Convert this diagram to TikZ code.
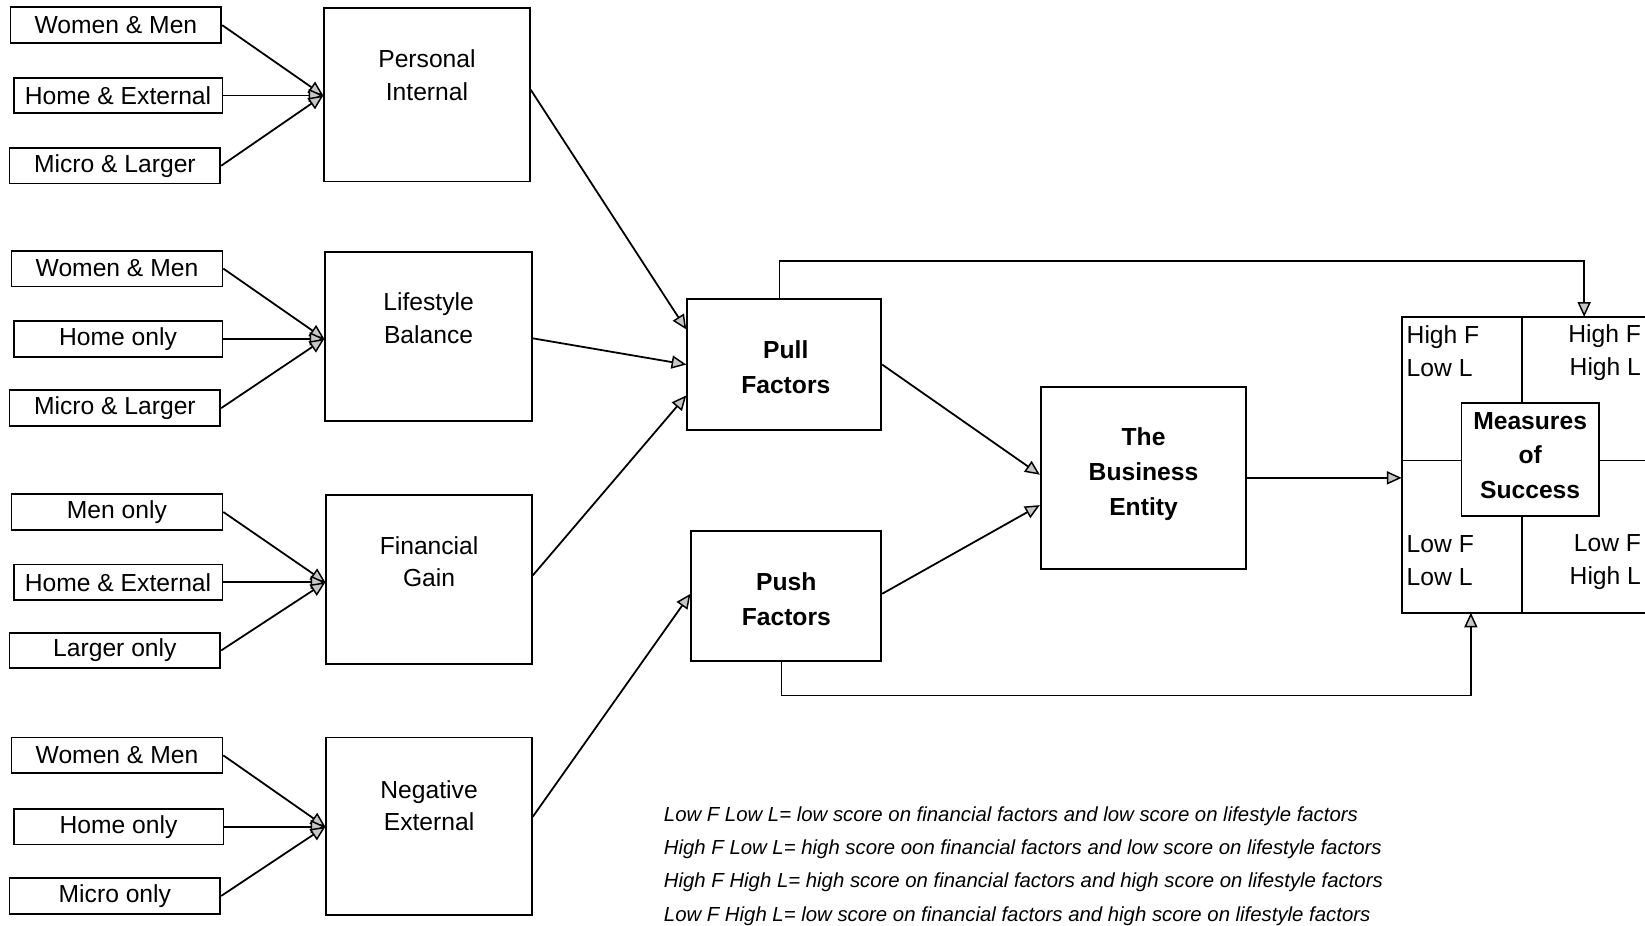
\documentclass[tikz,border=0pt]{standalone}
\usepackage{fontspec}
\setmainfont{Liberation Sans}
\usetikzlibrary{arrows.meta}

\begin{document}
\begin{tikzpicture}[x=1pt,y=-1pt,
  line width=1.7pt,
  inbox/.style={draw, minimum height=34pt, inner sep=0pt, font=\fontsize{23.5}{28}\selectfont},
  bigbox/.style={draw, inner sep=0pt},
  lbl/.style={align=center, inner sep=0pt, font=\fontsize{23.5}{31}\selectfont},
  blbl/.style={align=center, inner sep=0pt, font=\bfseries\fontsize{23.5}{33}\selectfont},
  qlbl/.style={inner sep=0pt, font=\fontsize{23.5}{31}\selectfont},
  tip/.style={-{Triangle[length=14pt,width=12.5pt,fill=gray!45,line width=1.4pt]}},
]
\useasboundingbox (0,0) rectangle (1568,882);

% ---- input boxes, group 1
\node[inbox, minimum width=201pt] (a1) at (110.5,24)  {Women \& Men};
\node[inbox, minimum width=199pt] (a2) at (112.5,91)  {Home \& External};
\node[inbox, minimum width=201pt] (a3) at (109.5,158) {Micro \& Larger};
% ---- group 2
\node[inbox, minimum width=201pt] (b1) at (111.5,256) {Women \& Men};
\node[inbox, minimum width=199pt] (b2) at (112.5,323) {Home only};
\node[inbox, minimum width=201pt] (b3) at (109.5,389) {Micro \& Larger};
% ---- group 3
\node[inbox, minimum width=201pt] (c1) at (111.5,488) {Men only};
\node[inbox, minimum width=199pt] (c2) at (112.5,555) {Home \& External};
\node[inbox, minimum width=201pt] (c3) at (109.5,620) {Larger only};
% ---- group 4
\node[inbox, minimum width=201pt] (d1) at (111.5,720) {Women \& Men};
\node[inbox, minimum width=200pt] (d2) at (113,788)   {Home only};
\node[inbox, minimum width=201pt] (d3) at (109.5,854) {Micro only};

% ---- factor category boxes
\node[bigbox, minimum width=196pt, minimum height=165pt] (p1) at (407,90.5) {};
\node[lbl] (p1t) at (407,71.5) {Personal\\Internal};
\node[bigbox, minimum width=197pt, minimum height=161pt] (p2) at (408.5,320.5) {};
\node[lbl] (p2t) at (408.5,303.5) {Lifestyle\\Balance};
\node[bigbox, minimum width=196pt, minimum height=161pt] (p3) at (409,552.5) {};
\node[lbl] (p3t) at (409,535.5) {Financial\\Gain};
\node[bigbox, minimum width=196pt, minimum height=169pt] (p4) at (409,787.5) {};
\node[lbl] (p4t) at (409,768) {Negative\\External};

% ---- pull / push and the business
\node[bigbox, minimum width=185pt, minimum height=125pt] (pull) at (747.5,347.5) {};
\node[blbl] (pullt) at (749,350) {Pull\\Factors};
\node[bigbox, minimum width=181pt, minimum height=124pt] (push) at (749.5,568) {};
\node[blbl] (pusht) at (749.5,571) {Push\\Factors};
\node[bigbox, minimum width=196pt, minimum height=173pt] (be) at (1090,455.5) {};
\node[blbl] (bet) at (1090,452) {The\\Business\\Entity};

% ---- measures of success grid
\coordinate (gNW) at (1336,302);
\coordinate (gSW) at (1336,584);
\coordinate (gNE) at (1568,302);
\coordinate (gSE) at (1568,584);
\coordinate (dTop) at (1451,302);
\coordinate (dBot) at (1451,584);
\coordinate (mW) at (1336,439);
\coordinate (mE) at (1568,439);
\node[bigbox, minimum width=131pt, minimum height=108pt] (mos) at (1458.5,438) {};
\node[blbl] (most) at (1458.5,434) {Measures\\of\\Success};
\draw (gNE) -- (gNW) -- (gSW) -- (gSE);
\draw (dTop) -- (dTop |- mos.north);
\draw (dBot) -- (dBot |- mos.south);
\draw (mW) -- (mW -| mos.west);
\draw (mos.east |- mE) -- (mE);
\node[qlbl, align=left,  anchor=north west] (q1) at (1340,310) {High F\\Low L};
\node[qlbl, align=right, anchor=north east] (q2) at (1565,309) {High F\\High L};
\node[qlbl, align=left,  anchor=north west] (q3) at (1340,510) {Low F\\Low L};
\node[qlbl, align=right, anchor=north east] (q4) at (1565,509) {Low F\\High L};

% ---- inputs into the category boxes
\foreach \s/\t/\m in {a/p1/a2, b/p2/b2, c/p3/c2, d/p4/d2}{
  \draw[tip] (\s1.east) -- (\m.east -| \t.west);
  \draw[tip] (\m.east)  -- (\m.east -| \t.west);
  \draw[tip] (\s3.east) -- (\m.east -| \t.west);
}

% ---- categories into pull / push
\draw[tip] ([yshift=5pt]p1.east)  -- ([yshift=33.5pt]pull.west);
\draw[tip] ([yshift=-2pt]p2.east) -- (pull.west);
\draw[tip] ([yshift=4pt]p3.east)  -- ([yshift=-29.5pt]pull.west);
\draw[tip] ([yshift=9pt]p4.east)  -- ([yshift=2pt]push.west);

% ---- into the business and on to success
\draw[tip] (pull.east) -- ([yshift=3pt]be.west);
\draw[tip] ([yshift=2pt]push.east) -- ([yshift=-26pt]be.west);
\draw[tip] (be.east) -- (be.east -| gNW);
\coordinate (gTopIn) at (1510,302);
\coordinate (gBotIn) at (1402,584);
\draw[tip] ([xshift=-4.5pt]pull.north) -- ++(0,-35) -| (gTopIn);
\draw[tip] ([xshift=-4.5pt]push.south) -- ++(0,32) -| (gBotIn);

% ---- key
\node[inner sep=0pt, anchor=north west, align=left,
      font=\itshape\fontsize{19.4}{31.7}\selectfont] (key) at (632,768)
  {Low F Low L= low score on financial factors and low score on lifestyle factors\\
   High F Low L= high score oon financial factors and low score on lifestyle factors\\
   High F High L= high score on financial factors and high score on lifestyle factors\\
   Low F High L= low score on financial factors and high score on lifestyle factors};
\end{tikzpicture}
\end{document}
